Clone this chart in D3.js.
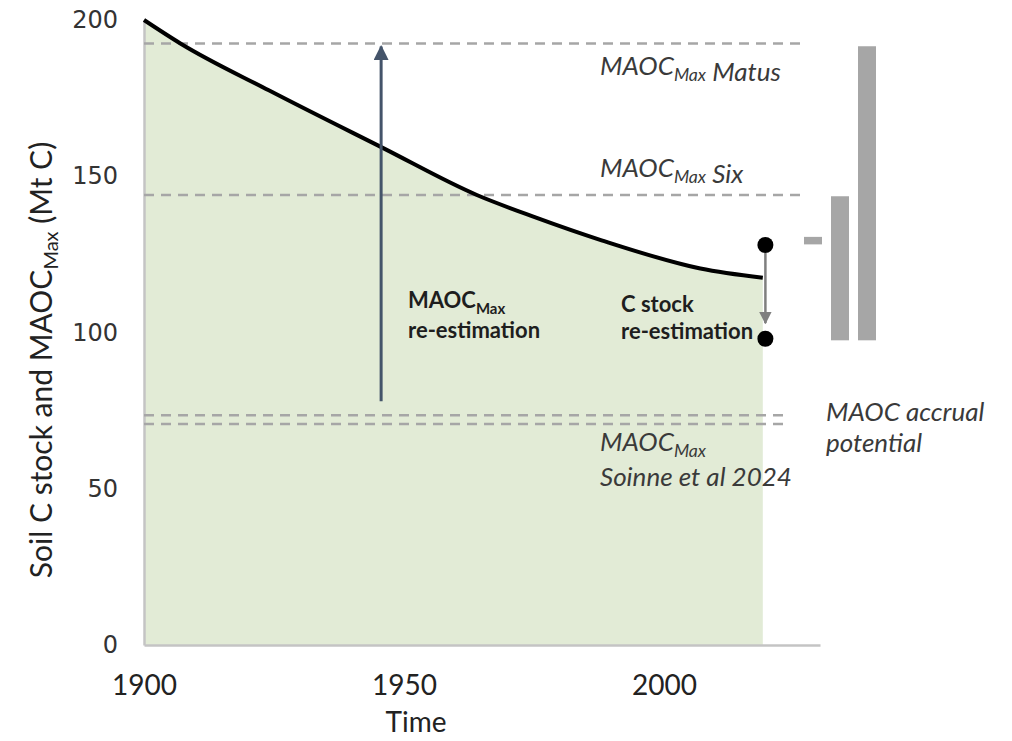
<!DOCTYPE html>
<html>
<head>
<meta charset="utf-8">
<script src="https://cdn.jsdelivr.net/npm/d3@7"></script>
<style>
  html, body { margin: 0; padding: 0; background: #fff; }
  svg { display: block; }
</style>
</head>
<body>
<svg id="chart" width="1012" height="741"></svg>
<script>
// soil C stock over time, with MAOCmax reference levels
const years = [1900, 1907, 1924, 1946, 1964, 1975, 1988, 2007, 2019];
const stock = [200, 192.5, 177.5, 159, 144, 137, 129.5, 120.5, 117.5];

const refNames  = ['Matus', 'Six', 'Soinne hi', 'Soinne lo'];
const refValues = [192.5, 144, 73.5, 70.7];
const refEnd    = [2027, 2027, 2023.5, 2023.5];

const reYear = 2019.5;
const reOld = 128, reNew = 98;          // C stock re-estimation dots
const maocArrowYear = 1945.6;
const maocArrowFrom = 78, maocArrowTo = 191.5;

const barKeys = ['stock', 'six', 'matus'];
const barLow  = [128.2, 97.5, 97.5];
const barHigh = [130.6, 143.6, 191.6];

const yTicks = [0, 50, 100, 150, 200];
const xTicks = [1900, 1950, 2000];

const svg = d3.select('#chart');
const x = d3.scaleLinear().domain([1900, 2030]).range([144, 820]);
const y = d3.scaleLinear().domain([0, 200]).range([645, 20]);
const xb = d3.scaleBand().domain(barKeys).range([804, 876]).paddingInner(1 / 3);

const pts = years.map((d, i) => [d, stock[i]]);

// green area under the curve
svg.append('path')
  .attr('d', d3.area().x(d => x(d[0])).y0(y(0)).y1(d => y(d[1])).curve(d3.curveMonotoneX)(pts))
  .attr('fill', '#e2ebd6');

// axes
const yAxis = svg.append('g').attr('transform', `translate(${x(1900)},0)`)
  .call(d3.axisLeft(y).tickValues(yTicks).tickSize(0).tickPadding(26));
yAxis.select('.domain').attr('stroke', '#c4c4c4').attr('stroke-width', 2.5);
yAxis.selectAll('text').attr('font-family', 'DejaVu Sans').attr('font-size', 24).attr('fill', '#333');

const xAxis = svg.append('g').attr('transform', `translate(0,${y(0)})`)
  .call(d3.axisBottom(x).tickValues(xTicks).tickFormat(d3.format('d')).tickSize(0).tickPadding(30));
xAxis.select('.domain').attr('stroke', '#c4c4c4').attr('stroke-width', 2.5);
xAxis.selectAll('text').attr('font-family', 'Lato').attr('font-size', 28).attr('fill', '#222');

// dashed reference lines
refValues.forEach((v, i) => {
  svg.append('line')
    .attr('x1', x(1900)).attr('x2', x(refEnd[i]))
    .attr('y1', y(v)).attr('y2', y(v))
    .attr('stroke', '#a6a6a6').attr('stroke-width', 2.5)
    .attr('stroke-dasharray', '10,7');
});

// the stock curve
svg.append('path')
  .attr('d', d3.line().x(d => x(d[0])).y(d => y(d[1])).curve(d3.curveMonotoneX)(pts))
  .attr('fill', 'none').attr('stroke', '#000').attr('stroke-width', 4);

// arrow heads
const defs = svg.append('defs');
function marker(id, color) {
  defs.append('marker').attr('id', id)
    .attr('viewBox', '0 0 10 10').attr('refX', 9).attr('refY', 5)
    .attr('markerWidth', 5).attr('markerHeight', 5).attr('orient', 'auto')
    .attr('markerUnits', 'strokeWidth')
    .append('path').attr('d', 'M0,0 L10,5 L0,10 Z').attr('fill', color);
}
marker('blueHead', '#44546a');
marker('grayHead', '#7f7f7f');

svg.append('line')
  .attr('x1', x(maocArrowYear)).attr('x2', x(maocArrowYear))
  .attr('y1', y(maocArrowFrom)).attr('y2', y(maocArrowTo))
  .attr('stroke', '#44546a').attr('stroke-width', 3)
  .attr('marker-end', 'url(#blueHead)');

svg.append('line')
  .attr('x1', x(reYear)).attr('x2', x(reYear))
  .attr('y1', y(reOld) + 8).attr('y2', y(reNew + 5))
  .attr('stroke', '#7f7f7f').attr('stroke-width', 2.5)
  .attr('marker-end', 'url(#grayHead)');

[reOld, reNew].forEach(v => {
  svg.append('circle').attr('cx', x(reYear)).attr('cy', y(v)).attr('r', 8).attr('fill', '#000');
});

// gray bars at right
barKeys.forEach((k, i) => {
  svg.append('rect')
    .attr('x', xb(k)).attr('width', xb.bandwidth())
    .attr('y', y(barHigh[i])).attr('height', y(barLow[i]) - y(barHigh[i]))
    .attr('fill', '#a6a6a6');
});

// text labels
function label(tx, ty, parts, opts) {
  const t = svg.append('text').attr('x', tx).attr('y', ty)
    .attr('font-family', 'Lato').attr('font-size', opts.size)
    .attr('font-style', opts.italic ? 'italic' : 'normal')
    .attr('font-weight', opts.bold ? 700 : 400)
    .attr('fill', opts.fill || '#333');
  parts.forEach(p => {
    if (p.sub) {
      t.append('tspan').attr('font-size', opts.size * 0.68).attr('dy', 6).text(p.sub);
      t.append('tspan').attr('dy', -6).text('');
    } else {
      t.append('tspan').text(p.t);
    }
  });
  return t;
}

const it = { size: 26, italic: true, fill: '#3a3a3a' };
label(600, 75, [{ t: 'MAOC' }, { sub: 'Max' }, { t: ' Matus' }], it);
label(600, 177, [{ t: 'MAOC' }, { sub: 'Max' }, { t: ' Six' }], it);
label(600, 451, [{ t: 'MAOC' }, { sub: 'Max' }], it);
label(600, 486, [{ t: 'Soinne et al 2024' }], it);
label(826, 421, [{ t: 'MAOC accrual' }], it);
label(826, 452, [{ t: 'potential' }], it);

const bd = { size: 22, bold: true, fill: '#1e1e1e' };
label(408, 308, [{ t: 'MAOC' }, { sub: 'Max' }], bd);
label(408, 338, [{ t: 're-estimation' }], bd);
label(621, 312, [{ t: 'C stock' }], bd);
label(621, 339, [{ t: 're-estimation' }], bd);

// axis titles
svg.append('text').attr('x', x(1950) + 12).attr('y', 732)
  .attr('text-anchor', 'middle').attr('font-family', 'Lato').attr('font-size', 28)
  .attr('fill', '#222').text('Time');

const yt = svg.append('text')
  .attr('transform', 'translate(52,360) rotate(-90)')
  .attr('text-anchor', 'middle').attr('font-family', 'Lato').attr('font-size', 30)
  .attr('fill', '#222');
yt.append('tspan').text('Soil C stock  and MAOC');
yt.append('tspan').attr('font-size', 20).attr('dy', 6).text('Max');
yt.append('tspan').attr('dy', -6).text(' (Mt C)');
</script>
</body>
</html>
